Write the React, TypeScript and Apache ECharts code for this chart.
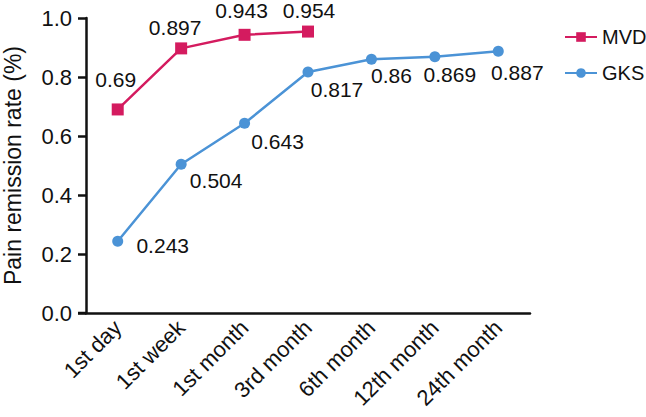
import React, { useEffect, useRef } from "react";
import * as echarts from "echarts";

const categories = ["1st day", "1st week", "1st month", "3rd month", "6th month", "12th month", "24th month"];
const mvdValues = [0.69, 0.897, 0.943, 0.954];
const gksValues = [0.243, 0.504, 0.643, 0.817, 0.86, 0.869, 0.887];
const yTicks = [0, 0.2, 0.4, 0.6, 0.8, 1.0];

// label displacement from each point (centre to centre), styling only
const mvdLabelOffsets = [[-2, -30], [-6, -21], [-3, -24], [1, -21]];
const gksLabelOffsets = [[45, 4], [35, 16], [33, 18], [29, 18], [20, 16], [15, 18], [19, 21]];

const FONT = "Liberation Sans, Arial, sans-serif";
const MVD_COLOR = "#d41b5f";
const GKS_COLOR = "#4b93d6";

export default function App() {
  const ref = useRef<HTMLDivElement>(null);
  useEffect(() => {
    const chart = echarts.init(ref.current!, null, { renderer: "svg" });
    chart.setOption({
      animation: false,
      backgroundColor: "#fff",
      textStyle: { fontFamily: FONT },
      legend: {
        orient: "vertical",
        left: 559,
        top: 22,
        itemWidth: 32,
        itemHeight: 12,
        itemGap: 16,
        textStyle: { fontSize: 20, color: "#111", fontFamily: FONT },
        data: ["MVD", "GKS"],
      },
      grid: { left: 86, right: 116, top: 18, bottom: 104, containLabel: false, outerBoundsMode: "none" },
      xAxis: {
        type: "category",
        data: categories,
        boundaryGap: true,
        axisLine: { lineStyle: { color: "#111", width: 2.5 } },
        axisTick: { alignWithLabel: true, length: 9, lineStyle: { color: "#111", width: 2.5 } },
        axisLabel: { rotate: 45, fontSize: 22, color: "#111", margin: 11, fontFamily: FONT },
      },
      yAxis: {
        type: "value",
        min: 0,
        max: 1,
        interval: 0.2,
        name: "Pain remission rate (%)",
        nameLocation: "middle",
        nameGap: 62,
        nameTextStyle: { fontSize: 23, color: "#111", fontFamily: FONT },
        axisLine: { show: true, lineStyle: { color: "#111", width: 2.5 } },
        axisTick: { show: true, length: 8, lineStyle: { color: "#111", width: 2.5 } },
        splitLine: { show: false },
        axisLabel: {
          fontSize: 22,
          color: "#111",
          margin: 14,
          fontFamily: FONT,
          formatter: (v: number) => (yTicks.includes(Math.round(v * 10) / 10) ? v.toFixed(1) : ""),
        },
      },
      graphic: [
        {
          type: "line",
          shape: { x1: 78, y1: 313, x2: 87, y2: 313 },
          style: { stroke: "#111", lineWidth: 2.5 },
        },
      ],
      series: [
        {
          name: "MVD",
          type: "line",
          data: mvdValues.map((v, i) => ({ value: v, label: { offset: mvdLabelOffsets[i] } })),
          symbol: "rect",
          symbolSize: 12,
          itemStyle: { color: MVD_COLOR },
          lineStyle: { color: MVD_COLOR, width: 2.5 },
          label: { show: true, position: "inside", fontSize: 21, color: "#111", fontFamily: FONT },
        },
        {
          name: "GKS",
          type: "line",
          data: gksValues.map((v, i) => ({ value: v, label: { offset: gksLabelOffsets[i] } })),
          symbol: "circle",
          symbolSize: 11,
          itemStyle: { color: GKS_COLOR },
          lineStyle: { color: GKS_COLOR, width: 2.5 },
          label: { show: true, position: "inside", fontSize: 21, color: "#111", fontFamily: FONT },
        },
      ],
    });
    return () => chart.dispose();
  }, []);
  return <div ref={ref} style={{ width: 646, height: 417, position: "absolute", left: 0, top: 0 }} />;
}
